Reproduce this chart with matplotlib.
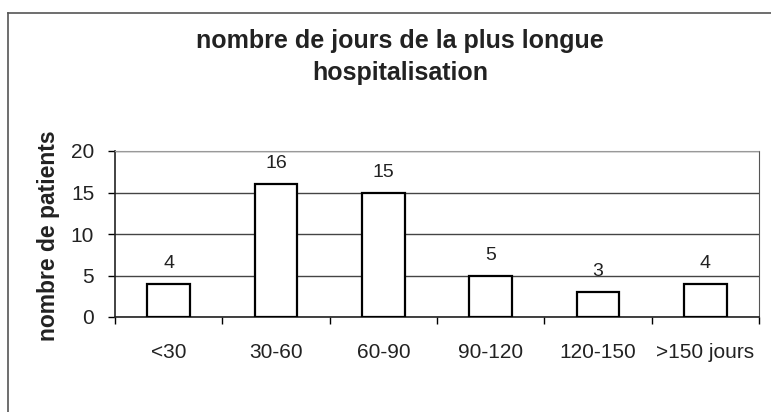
import matplotlib.pyplot as plt
import numpy as np
from matplotlib.lines import Line2D

plt.rcParams['font.family'] = ['Liberation Sans', 'DejaVu Sans']

# Données
categories = ['<30', '30-60', '60-90', '90-120', '120-150', '>150 jours']
patients = [4, 16, 15, 5, 3, 4]
y_ticks = [0, 5, 10, 15, 20]

fig = plt.figure(figsize=(7.71, 4.12), dpi=100)
ax = fig.add_axes([115 / 771, 1 - 317 / 412, (759 - 115) / 771, (317 - 151) / 412])

x = np.arange(len(categories))
ax.bar(x, patients, width=0.4, color='white', edgecolor='black', linewidth=1.6, zorder=3)

# Étiquettes de valeurs
for xi, v in zip(x, patients):
    ax.text(xi, v + 1.9, str(v), ha='center', va='baseline', fontsize=14, color='#222222')

ax.set_xlim(-0.5, len(categories) - 0.5)
ax.set_ylim(0, 20)
ax.set_yticks(y_ticks)
ax.tick_params(axis='y', labelsize=15, length=5, width=1, direction='out', pad=10,
               labelcolor='#222222')

# Catégories au centre, graduations aux limites
ax.set_xticks(x)
ax.set_xticklabels(categories, fontsize=15, color='#222222')
ax.set_xticks(np.arange(-0.5, len(categories)), minor=True)
ax.tick_params(axis='x', which='major', length=0, pad=19)
ax.tick_params(axis='x', which='minor', length=5, width=1, direction='out')

ax.yaxis.grid(True, color='#444444', linewidth=1)
ax.set_axisbelow(True)
for side in ['left', 'bottom']:
    ax.spines[side].set_color('#222222')
    ax.spines[side].set_linewidth(1.2)
ax.spines['right'].set_color('#555555')
ax.spines['top'].set_color('#999999')
ax.spines['top'].set_linestyle((0, (4, 1)))

ax.set_ylabel('nombre de patients', fontsize=16.5, fontweight='bold', color='#222222')
ax.yaxis.set_label_coords((60 - 115) / 644, 0.49)

fig.text(400 / 771, 1 - 48 / 412, 'nombre de jours de la plus longue',
         ha='center', va='baseline', fontsize=18, fontweight='bold', color='#222222')
fig.text(400 / 771, 1 - 80 / 412, 'hospitalisation',
         ha='center', va='baseline', fontsize=18, fontweight='bold', color='#222222')

# Cadre extérieur (gauche et haut seulement)
fig.add_artist(Line2D([8 / 771, 8 / 771], [0, 1 - 13 / 412], color='#555555', linewidth=1.2))
fig.add_artist(Line2D([8 / 771, 1], [1 - 13 / 412, 1 - 13 / 412], color='#555555', linewidth=1.2))

plt.savefig('out.png', dpi=100)
